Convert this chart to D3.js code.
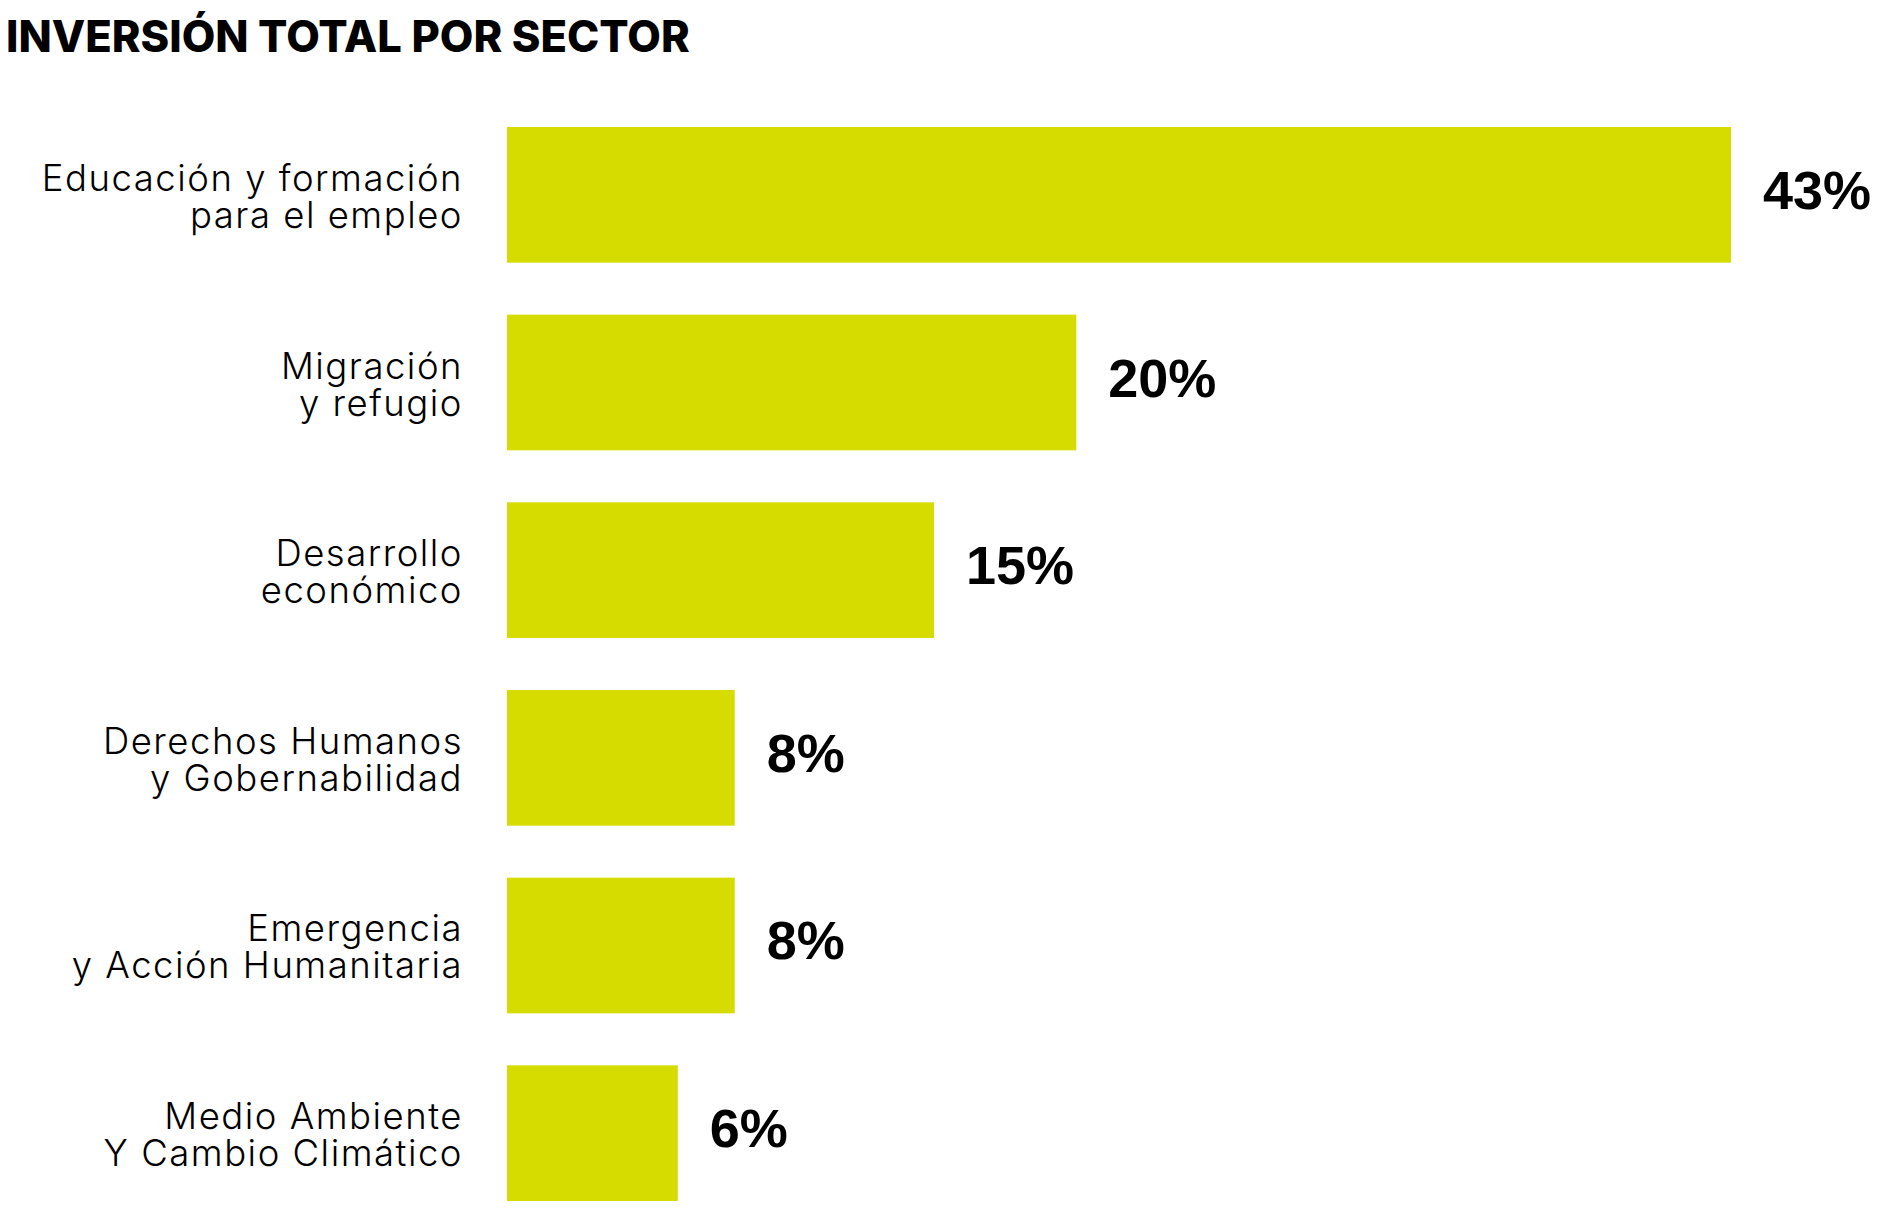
<!DOCTYPE html>
<html>
<head>
<meta charset="utf-8">
<script src="https://cdn.jsdelivr.net/npm/d3@7"></script>
<style>
  html, body { margin: 0; padding: 0; background: #ffffff; }
  svg { display: block; }
</style>
</head>
<body>
<svg id="chart" width="1900" height="1215"></svg>
<script>
const title = "INVERSIÓN TOTAL POR SECTOR";
const categories = [
  "Educación y formación|para el empleo",
  "Migración|y refugio",
  "Desarrollo|económico",
  "Derechos Humanos|y Gobernabilidad",
  "Emergencia|y Acción Humanitaria",
  "Medio Ambiente|Y Cambio Climático"
];
const values = [43, 20, 15, 8, 8, 6];
const valueLabels = ["43%", "20%", "15%", "8%", "8%", "6%"];

const svg = d3.select("#chart");
const barColor = "#D6DB00";

const x = d3.scaleLinear()
  .domain([0, d3.max(values)])
  .range([507, 1731]);

const y = d3.scaleBand()
  .domain(categories)
  .range([127, 1201])
  .paddingInner(0.277)
  .paddingOuter(0);

svg.append("text")
  .attr("x", 6)
  .attr("y", 52)
  .attr("font-family", "Inter, 'DejaVu Sans', sans-serif")
  .attr("font-weight", 800)
  .attr("font-size", 43.5)
  .attr("fill", "#000")
  .text(title);

const rows = svg.append("g").selectAll("g")
  .data(categories.map((c, i) => ({ c, v: values[i], lab: valueLabels[i] })))
  .join("g");

rows.append("rect")
  .attr("x", x(0))
  .attr("y", d => y(d.c))
  .attr("width", d => x(d.v) - x(0))
  .attr("height", y.bandwidth())
  .attr("fill", barColor);

rows.append("text")
  .attr("x", d => x(d.v) + 32)
  .attr("y", d => y(d.c) + y.bandwidth() / 2 + 14)
  .attr("font-family", "'Liberation Sans', Arial, sans-serif")
  .attr("font-weight", "bold")
  .attr("font-size", 54)
  .attr("fill", "#000")
  .text(d => d.lab);

const cat = rows.append("text")
  .attr("text-anchor", "end")
  .attr("font-family", "Inter, 'Noto Sans', sans-serif")
  .attr("font-weight", 300)
  .attr("font-size", 36.5)
  .attr("letter-spacing", 1.5)
  .attr("fill", "#000");

cat.each(function(d) {
  const lines = d.c.split("|");
  const cy = y(d.c) + y.bandwidth() / 2;
  d3.select(this).selectAll("tspan")
    .data(lines)
    .join("tspan")
    .attr("x", 463)
    .attr("y", (l, i) => cy - 4 + i * 37)
    .text(l => l);
});
</script>
</body>
</html>
